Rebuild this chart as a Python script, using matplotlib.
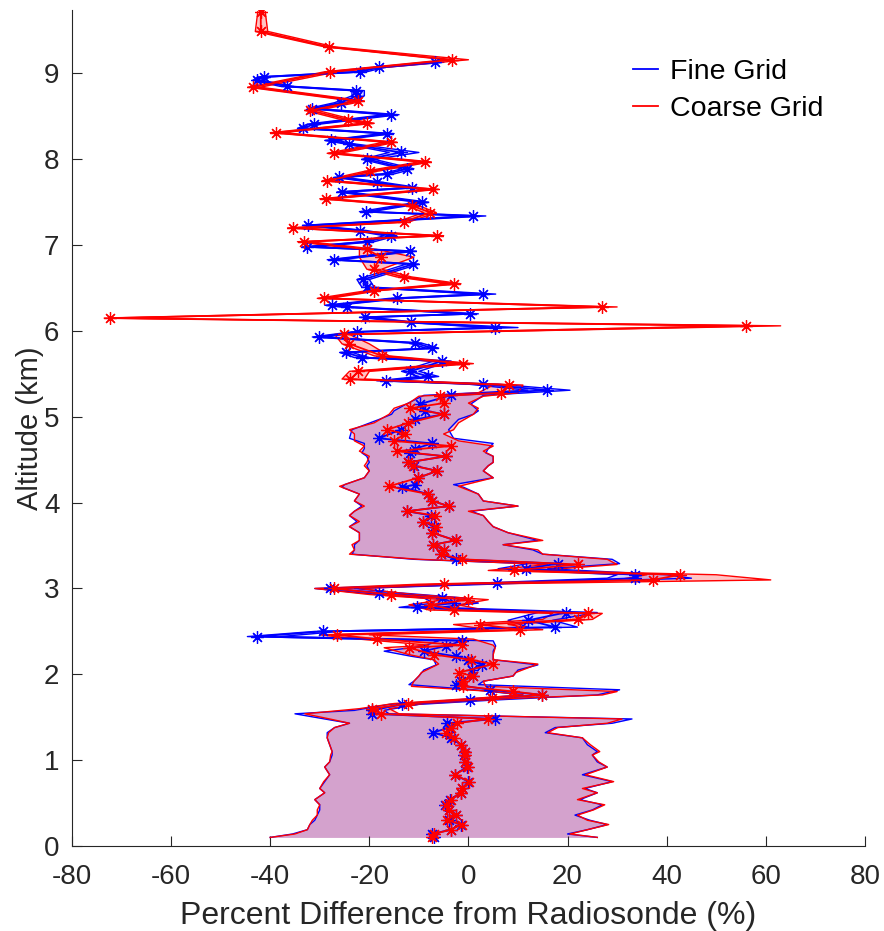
import numpy as np
import matplotlib
matplotlib.use("Agg")
import matplotlib.pyplot as plt
from matplotlib.lines import Line2D

plt.rcParams['font.family'] = ['Liberation Sans', 'DejaVu Sans']
plt.rcParams['axes.unicode_minus'] = False

# coarse grid (red): altitude, mean, lower and upper bound
coarse_alt = [0.10, 0.14, 0.19, 0.25, 0.30, 0.36, 0.42, 0.48, 0.54, 0.62, 0.67, 0.75, 0.83,
              0.92, 0.98, 1.06, 1.10, 1.18, 1.26, 1.32, 1.38, 1.43, 1.48, 1.54, 1.60, 1.66,
              1.72, 1.76, 1.80, 1.86, 1.92, 1.98, 2.02, 2.12, 2.17, 2.23, 2.31, 2.34, 2.41,
              2.46, 2.52, 2.58, 2.64, 2.71, 2.75, 2.81, 2.87, 2.93, 3.00, 3.05, 3.10, 3.16,
              3.21, 3.28, 3.34, 3.40, 3.45, 3.51, 3.56, 3.65, 3.72, 3.78, 3.85, 3.90, 3.96,
              4.02, 4.10, 4.19, 4.29, 4.37, 4.43, 4.47, 4.54, 4.60, 4.66, 4.72, 4.80, 4.85,
              4.93, 5.03, 5.10, 5.16, 5.24, 5.28, 5.37, 5.44, 5.53, 5.62, 5.71, 5.85, 5.96,
              6.06, 6.15, 6.28, 6.38, 6.47, 6.55, 6.63, 6.72, 6.86, 6.95, 7.04, 7.11, 7.20,
              7.27, 7.38, 7.46, 7.54, 7.65, 7.75, 7.86, 7.97, 8.07, 8.20, 8.31, 8.42, 8.46,
              8.57, 8.68, 8.84, 9.02, 9.16, 9.31, 9.49, 9.72]
coarse_mid = [-7.3, -7.0, -3.6, -1.3, -4.4, -2.6, -4.0, -4.6, -3.6, -1.6, -1.3, 0.2, -2.8,
              0.0, -0.6, -0.6, -0.6, -1.6, -3.0, -4.6, -3.5, -2.3, 4.0, -17.7, -19.5, -12.1,
              4.8, 14.9, 9.0, -1.0, -1.1, 1.0, -2.0, 5.0, 0.5, -7.0, -12.0, -1.3, -18.4,
              -26.5, 10.5, 2.4, 22.2, 24.2, -3.0, -7.7, 0.0, -15.7, -27.2, -5.0, 37.2, 42.7,
              9.1, 22.2, -1.3, -5.6, -5.0, -7.1, -2.6, -7.3, -6.5, -9.1, -6.7, -12.4, -4.0,
              -7.3, -8.1, -16.1, -10.1, -6.3, -11.1, -12.1, -4.6, -14.4, -3.6, -15.1, -12.7, -16.4,
              -12.1, -5.0, -11.7, -5.0, -5.8, 6.5, 8.1, -23.8, -22.2, -1.0, -17.4, -24.0, -25.2,
              56.0, -72.4, 27.0, -29.2, -19.1, -3.0, -13.1, -19.1, -17.7, -20.4, -33.2, -6.3, -35.3,
              -13.1, -7.7, -11.4, -28.8, -7.1, -28.5, -19.8, -8.7, -27.2, -15.7, -38.9, -20.4, -24.2,
              -31.9, -22.2, -43.4, -28.0, -3.3, -28.2, -41.9, -41.9]
coarse_lo = [-40.0, -35.0, -32.5, -32.0, -31.5, -30.5, -30.5, -30.0, -31.0, -29.0, -30.0, -29.2, -28.0,
             -29.0, -28.0, -27.8, -27.5, -28.0, -28.5, -28.2, -27.0, -24.0, -28.0, -33.0, -22.0, -15.0,
             1.0, 11.0, 5.0, -11.5, -11.0, -10.0, -9.5, -6.0, -7.0, -12.0, -17.0, -8.0, -22.0,
             -30.0, 4.0, -3.0, 15.0, 17.0, -8.0, -12.0, -5.0, -20.0, -31.0, -10.0, 30.0, 36.0,
             4.0, 16.0, -10.0, -24.0, -23.0, -23.5, -22.0, -22.0, -24.0, -22.0, -24.0, -23.0, -21.0,
             -23.0, -22.0, -26.0, -21.0, -20.0, -21.0, -20.5, -20.0, -22.0, -21.0, -23.0, -23.0, -24.0,
             -19.0, -16.0, -15.0, -12.0, -10.0, 2.0, 5.0, -25.5, -24.0, -3.0, -19.0, -25.5, -27.0,
             54.0, -73.5, 25.5, -30.5, -20.5, -4.5, -14.5, -20.5, -22.0, -22.0, -34.5, -7.5, -36.5,
             -14.5, -9.0, -12.5, -30.0, -8.5, -29.5, -21.0, -10.0, -28.5, -17.0, -40.0, -21.5, -25.5,
             -33.0, -23.5, -44.5, -29.0, -4.5, -29.0, -43.0, -42.5]
coarse_hi = [26.0, 20.5, 24.0, 28.3, 24.0, 22.0, 25.2, 27.5, 22.0, 26.0, 23.0, 29.3, 23.6,
             28.0, 26.3, 25.0, 26.5, 24.6, 23.0, 16.0, 18.0, 28.0, 31.0, -14.0, -16.0, -9.0,
             9.0, 27.0, 30.0, 3.5, 3.0, 9.0, 9.5, 14.0, 5.0, 5.0, 5.4, 5.0, 1.0,
             -20.0, 15.0, 8.0, 25.0, 27.0, 3.0, -2.0, 4.0, -11.0, -22.0, 0.0, 61.0, 50.0,
             14.0, 30.0, 28.0, 15.0, 14.0, 7.0, 15.0, 8.0, 5.0, 4.0, 3.0, 0.0, 10.0,
             3.0, 2.0, -2.0, 5.0, 3.0, 4.0, 5.0, 5.0, 3.0, 5.0, -2.0, -5.0, -3.0,
             -2.0, 1.0, 2.0, 0.0, 3.0, 10.0, 11.0, -21.0, -20.0, 1.0, -16.0, -20.0, -24.0,
             63.0, -71.0, 30.0, -28.0, -18.0, -1.5, -11.5, -17.5, -11.0, -18.5, -32.0, -5.0, -34.0,
             -12.0, -6.5, -10.0, -27.5, -6.0, -27.0, -18.5, -7.5, -26.0, -14.5, -37.5, -19.0, -23.0,
             -30.5, -21.0, -42.0, -26.5, 0.0, -27.0, -40.5, -41.0]

# fine grid (blue)
fine_alt = [0.10, 0.14, 0.19, 0.25, 0.30, 0.36, 0.42, 0.48, 0.54, 0.62, 0.67, 0.75, 0.83,
            0.92, 0.98, 1.06, 1.10, 1.18, 1.26, 1.32, 1.38, 1.43, 1.48, 1.54, 1.58, 1.65,
            1.70, 1.76, 1.82, 1.88, 1.92, 1.98, 2.05, 2.11, 2.17, 2.21, 2.27, 2.33, 2.39,
            2.44, 2.50, 2.55, 2.63, 2.72, 2.78, 2.83, 2.89, 2.95, 3.00, 3.06, 3.12, 3.16,
            3.23, 3.29, 3.34, 3.40, 3.45, 3.51, 3.56, 3.65, 3.72, 3.78, 3.85, 3.90, 3.96,
            4.02, 4.10, 4.18, 4.21, 4.29, 4.37, 4.43, 4.47, 4.54, 4.58, 4.63, 4.69, 4.75,
            4.85, 4.97, 5.03, 5.07, 5.15, 5.25, 5.31, 5.38, 5.42, 5.47, 5.53, 5.65, 5.69,
            5.75, 5.80, 5.86, 5.93, 5.99, 6.04, 6.10, 6.16, 6.20, 6.28, 6.30, 6.38, 6.43,
            6.51, 6.60, 6.78, 6.83, 6.93, 6.98, 7.04, 7.11, 7.17, 7.23, 7.34, 7.39, 7.50,
            7.62, 7.67, 7.73, 7.79, 7.83, 7.89, 8.00, 8.08, 8.18, 8.22, 8.30, 8.36, 8.41,
            8.52, 8.59, 8.66, 8.74, 8.80, 8.85, 8.92, 8.96, 9.02, 9.07, 9.13]
fine_mid = [-7.0, -7.3, -3.6, -1.6, -4.0, -2.6, -4.0, -4.8, -3.8, -1.4, -1.3, 0.0, -2.8,
            -0.3, -0.6, -0.8, -0.6, -1.6, -3.5, -7.1, -4.0, -4.4, 5.4, -19.4, -19.4, -13.4,
            0.4, 14.9, 4.4, -2.6, -1.5, 1.0, 0.7, 2.8, 0.0, -2.6, -9.0, -4.6, -1.3,
            -42.7, -29.3, 17.5, 12.1, 19.6, -10.3, -3.0, -5.3, -18.1, -28.0, 5.8, 33.7, 33.7,
            11.7, 18.1, -2.6, -5.6, -5.0, -7.1, -2.6, -7.3, -7.0, -9.1, -7.5, -12.4, -4.0,
            -7.3, -8.1, -13.4, -10.7, -10.1, -6.3, -11.0, -12.1, -4.6, -11.7, -10.7, -7.3, -18.1,
            -13.7, -10.7, -5.0, -8.7, -9.7, -3.6, 15.9, 3.0, -16.7, -8.1, -11.7, -5.3, -21.4,
            -24.8, -7.3, -10.7, -30.2, -22.4, 5.4, -11.6, -20.8, 0.4, -24.5, -27.5, -14.5, 3.0,
            -20.4, -21.2, -11.1, -27.2, -11.7, -32.5, -20.4, -15.7, -21.8, -32.3, 1.0, -20.6, -9.3,
            -25.5, -11.4, -18.4, -26.1, -16.5, -12.4, -20.4, -13.7, -24.1, -27.8, -16.4, -33.3, -31.2,
            -15.7, -31.5, -25.8, -22.4, -22.6, -36.6, -42.6, -41.3, -21.8, -18.1, -6.7]
fine_lo = [-40.0, -35.5, -32.5, -32.0, -31.0, -30.5, -30.0, -30.0, -31.0, -29.0, -30.0, -29.0, -28.0,
           -29.0, -28.0, -27.5, -27.5, -28.0, -28.5, -28.5, -27.0, -24.0, -29.0, -35.0, -23.0, -16.0,
           -3.0, 11.0, 1.0, -12.0, -11.0, -10.0, -9.0, -6.5, -7.0, -11.5, -17.0, -9.0, -6.0,
           -44.6, -31.0, 12.0, 8.0, 14.0, -14.0, -7.0, -9.0, -22.0, -31.0, 1.0, 28.0, 30.0,
           6.0, 12.0, -11.0, -23.5, -23.0, -23.0, -22.0, -22.0, -24.0, -22.5, -24.0, -23.0, -21.5,
           -23.0, -22.0, -25.5, -25.0, -21.0, -20.0, -20.5, -20.0, -20.5, -21.5, -21.0, -21.0, -24.0,
           -23.5, -18.0, -15.5, -15.0, -12.5, -9.0, 12.0, 0.0, -18.5, -10.0, -13.5, -7.0, -23.0,
           -26.0, -8.5, -12.0, -31.5, -23.5, 4.0, -13.0, -22.0, -1.0, -26.0, -29.0, -16.0, 1.5,
           -21.5, -22.5, -12.5, -28.5, -13.0, -33.5, -21.5, -17.0, -23.0, -33.5, -0.5, -22.0, -10.5,
           -26.5, -12.5, -19.5, -27.0, -17.5, -13.5, -21.5, -16.0, -25.0, -29.0, -17.5, -34.5, -32.5,
           -17.0, -32.5, -27.0, -23.5, -23.5, -38.0, -43.5, -42.5, -23.0, -19.0, -8.0]
fine_hi = [26.0, 20.0, 24.0, 28.0, 24.5, 21.5, 25.0, 27.0, 22.5, 26.0, 23.5, 29.0, 23.0,
           28.0, 26.0, 25.0, 26.0, 24.0, 23.0, 15.5, 17.5, 29.0, 33.0, -16.0, -17.0, -10.0,
           5.0, 26.0, 30.5, 2.0, 3.0, 9.0, 10.0, 14.0, 5.0, 5.0, 5.0, 5.5, 5.0,
           -38.0, -26.0, 22.0, 17.0, 26.0, -6.0, 2.0, -1.0, -14.0, -23.0, 10.0, 45.0, 40.0,
           16.0, 30.5, 29.0, 15.0, 13.0, 7.0, 14.0, 8.0, 5.0, 4.0, 3.0, 0.5, 10.0,
           3.0, 2.0, -1.0, -3.0, 5.0, 3.0, 4.0, 5.0, 5.0, 3.5, 4.0, 5.0, -3.0,
           -4.0, -2.0, 1.0, 2.0, 0.5, 3.0, 20.5, 6.0, -14.5, -6.0, -10.0, -3.5, -20.0,
           -23.5, -6.0, -9.5, -29.0, -21.0, 10.0, -10.5, -19.5, 2.0, -23.0, -26.5, -13.0, 5.5,
           -19.0, -20.0, -10.0, -26.0, -10.5, -31.0, -19.0, -14.5, -20.5, -31.0, 3.5, -19.5, -8.0,
           -24.0, -10.0, -17.0, -25.0, -15.0, -11.0, -19.0, -10.0, -23.0, -26.5, -15.0, -32.0, -30.0,
           -14.0, -30.0, -24.5, -21.0, -21.0, -35.5, -41.5, -40.0, -20.5, -17.0, -5.0]

fig = plt.figure(figsize=(8.84, 9.31), dpi=100)
ax = fig.add_axes([0.0814, 0.0913, 0.897, 0.898])

ax.fill_betweenx(coarse_alt, coarse_lo, coarse_hi, color='red', alpha=0.23, linewidth=0)
ax.fill_betweenx(fine_alt, fine_lo, fine_hi, color='blue', alpha=0.17, linewidth=0)
ax.plot(fine_lo, fine_alt, color='blue', lw=1)
ax.plot(fine_hi, fine_alt, color='blue', lw=1)
ax.plot(coarse_lo, coarse_alt, color='red', lw=1)
ax.plot(coarse_hi, coarse_alt, color='red', lw=1)

ast = (8, 2, 0)  # matlab style asterisk
ax.plot(fine_mid, fine_alt, color='blue', lw=1.3, marker=ast, ms=9, mew=0.9)
ax.plot(coarse_mid, coarse_alt, color='red', lw=1.3, marker=ast, ms=9, mew=0.9)

ax.set_xlim(-80, 80)
ax.set_ylim(0, 9.74)
ax.set_xticks(np.arange(-80, 81, 20))
ax.set_yticks(np.arange(0, 10, 1))
ax.spines['top'].set_visible(False)
ax.spines['right'].set_visible(False)
for s in ['left', 'bottom']:
    ax.spines[s].set_color('#262626')
    ax.spines[s].set_linewidth(0.8)
ax.tick_params(direction='in', length=7, width=0.8, color='#262626', labelsize=20, labelcolor='#262626')
ax.tick_params(axis='x', pad=13)
ax.tick_params(axis='y', pad=9)
ax.set_xlabel('Percent Difference from Radiosonde (%)', fontsize=23, color='#262626', labelpad=8)
ax.set_ylabel('Altitude (km)', fontsize=21, color='#262626', labelpad=0)

handles = [Line2D([], [], color='blue', lw=1.3), Line2D([], [], color='red', lw=1.3)]
ax.legend(handles, ['Fine Grid', 'Coarse Grid'], loc='upper left', bbox_to_anchor=(0.675, 0.972),
          frameon=False, fontsize=20.5, handlelength=0.9, handletextpad=0.4, labelspacing=0.4)

fig.savefig('out.png', dpi=100)
